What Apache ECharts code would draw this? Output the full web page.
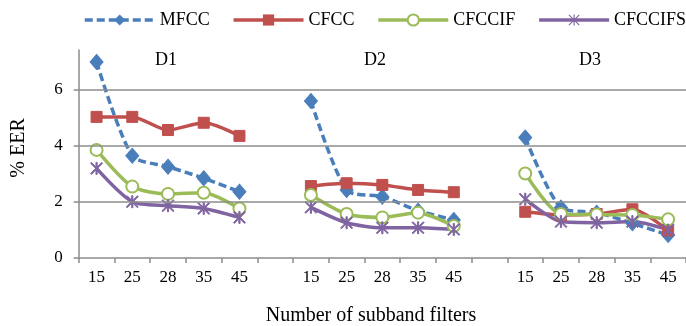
<!DOCTYPE html>
<html>
<head>
<meta charset="utf-8">
<script src="https://cdn.jsdelivr.net/npm/echarts@6/dist/echarts.min.js"></script>
<style>
  html, body { margin: 0; padding: 0; background: #fff; }
  #chart { width: 686px; height: 326px; }
</style>
</head>
<body>
<div id="chart"></div>
<script>
// Subband filter counts per database block; empty slots separate D1, D2, D3
const categories = ['15', '25', '28', '35', '45', '', '15', '25', '28', '35', '45', '', '15', '25', '28', '35', '45'];
const groupLabels = ['D1', 'D2', 'D3'];
const yTicks = [0, 2, 4, 6];

// % EER values (null = gap between databases)
const mfcc     = [7.00, 3.65, 3.26, 2.85, 2.37, null, 5.61, 2.43, 2.19, 1.69, 1.36, null, 4.30, 1.80, 1.62, 1.24, 0.82];
const cfcc     = [5.04, 5.04, 4.57, 4.83, 4.36, null, 2.57, 2.67, 2.61, 2.43, 2.35, null, 1.65, 1.54, 1.57, 1.74, 0.98];
const cfccif   = [3.86, 2.55, 2.29, 2.33, 1.77, null, 2.25, 1.57, 1.45, 1.62, 1.14, null, 3.02, 1.57, 1.55, 1.54, 1.38];
const cfccifs  = [3.20, 2.01, 1.87, 1.77, 1.45, null, 1.81, 1.26, 1.08, 1.08, 1.02, null, 2.10, 1.30, 1.26, 1.30, 1.00];

const FONT = '"Liberation Serif", "Times New Roman", serif';
const GRID_GRAY = '#8c8c8c';

// six-armed asterisk marker
const asterisk = 'path://M9 0H11V20H9Z M1.4 0L20 18.6L18.6 20L0 1.4Z M18.6 0L20 1.4L1.4 20L0 18.6Z';

function lineSeries(name, data, color, symbol, size, extra) {
  return Object.assign({
    name: name,
    type: 'line',
    data: data,
    smooth: 0.25,
    symbol: symbol,
    symbolSize: size,
    z: 3,
    lineStyle: { color: color, width: 3.5 },
    itemStyle: { color: color, borderColor: color },
    emphasis: { disabled: true }
  }, extra || {});
}

const chart = echarts.init(document.getElementById('chart'), null, { renderer: 'canvas' });

chart.setOption({
  animation: false,
  backgroundColor: '#fff',
  textStyle: { fontFamily: FONT },
  legend: {
    data: ['MFCC', 'CFCC', 'CFCCIF', 'CFCCIFS'],
    left: 78,
    top: 6,
    width: 720,
    itemWidth: 70,
    itemHeight: 14,
    itemGap: 22,
    lineStyle: { width: 3.5 },
    textStyle: { fontFamily: FONT, fontSize: 18, color: '#000' }
  },
  grid: { left: 78.7, top: 50, width: 617, height: 208 },
  xAxis: {
    type: 'category',
    data: categories,
    boundaryGap: true,
    axisLine: { lineStyle: { color: GRID_GRAY, width: 1.5 } },
    axisTick: { show: true, length: 5, interval: 0, lineStyle: { color: GRID_GRAY, width: 1.5 } },
    axisLabel: { interval: 0, margin: 11, fontFamily: FONT, fontSize: 17, color: '#000' },
    splitLine: { show: false }
  },
  yAxis: {
    type: 'value',
    min: 0,
    max: 208 / 28,
    axisLine: { show: true, lineStyle: { color: GRID_GRAY, width: 1.5 } },
    axisTick: { show: true, length: 5, customValues: yTicks, lineStyle: { color: GRID_GRAY, width: 1.5 } },
    axisLabel: { margin: 16, customValues: yTicks, fontFamily: FONT, fontSize: 17, color: '#000' },
    splitLine: { show: false }
  },
  series: [
    {
      // horizontal gridlines
      name: 'grid',
      type: 'line',
      data: [],
      z: 1,
      silent: true,
      markLine: {
        silent: true,
        symbol: 'none',
        label: { show: false },
        lineStyle: { color: GRID_GRAY, width: 1.5, type: 'solid' },
        emphasis: { disabled: true },
        data: yTicks.filter(v => v > 0).map(v => ({ yAxis: v }))
      }
    },
    lineSeries('MFCC', mfcc, '#4a7ebb', 'diamond', [13, 15], {
      lineStyle: { color: '#4a7ebb', width: 3.5, type: [8, 4] }
    }),
    lineSeries('CFCC', cfcc, '#c0504d', 'rect', 11),
    lineSeries('CFCCIF', cfccif, '#9bbb59', 'circle', 12, {
      itemStyle: { color: '#fff', borderColor: '#9bbb59', borderWidth: 2 }
    }),
    lineSeries('CFCCIFS', cfccifs, '#8064a2', asterisk, 12)
  ],
  graphic: [
    { type: 'text', x: 166, y: 60, style: { text: groupLabels[0], font: '18px ' + FONT, fill: '#000', align: 'center', verticalAlign: 'middle' } },
    { type: 'text', x: 375, y: 60, style: { text: groupLabels[1], font: '18px ' + FONT, fill: '#000', align: 'center', verticalAlign: 'middle' } },
    { type: 'text', x: 590, y: 60, style: { text: groupLabels[2], font: '18px ' + FONT, fill: '#000', align: 'center', verticalAlign: 'middle' } },
    { type: 'text', x: 19, y: 148, rotation: Math.PI / 2, style: { text: '% EER', font: '20px ' + FONT, fill: '#000', align: 'center', verticalAlign: 'middle' } },
    { type: 'text', x: 371, y: 316, style: { text: 'Number of subband filters', font: '20px ' + FONT, fill: '#000', align: 'center', verticalAlign: 'middle' } }
  ]
});
</script>
</body>
</html>
